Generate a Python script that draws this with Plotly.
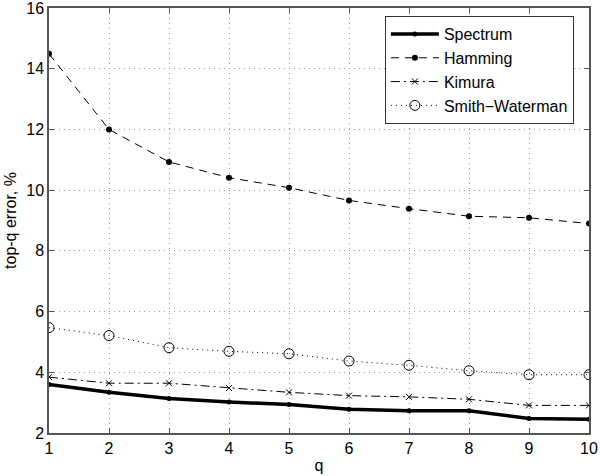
import plotly.graph_objects as go

q = [1, 2, 3, 4, 5, 6, 7, 8, 9, 10]
spectrum = [3.60, 3.34, 3.14, 3.02, 2.94, 2.78, 2.73, 2.73, 2.48, 2.45]
hamming = [14.49, 12.00, 10.93, 10.41, 10.08, 9.66, 9.39, 9.14, 9.09, 8.90]
kimura = [3.84, 3.64, 3.64, 3.48, 3.34, 3.23, 3.19, 3.11, 2.91, 2.91]
smith_waterman = [5.47, 5.21, 4.81, 4.69, 4.61, 4.37, 4.23, 4.05, 3.92, 3.92]

x_ticks = q
y_ticks = [2, 4, 6, 8, 10, 12, 14, 16]

FONT = "Liberation Sans, Arial"

fig = go.Figure()
fig.add_trace(go.Scatter(x=q, y=spectrum, name="Spectrum", mode="lines+markers",
                         line=dict(color="black", width=3.5),
                         marker=dict(symbol="circle", size=5, color="black")))
fig.add_trace(go.Scatter(x=q, y=hamming, name="Hamming", mode="lines+markers",
                         line=dict(color="black", width=1, dash="8px,6px"),
                         marker=dict(symbol="circle", size=6, color="black")))
fig.add_trace(go.Scatter(x=q, y=kimura, name="Kimura", mode="lines+markers",
                         line=dict(color="black", width=1, dash="9px,4px,2px,4px"),
                         marker=dict(symbol="x-thin", size=6, color="black",
                                     line=dict(color="black", width=1))))
fig.add_trace(go.Scatter(x=q, y=smith_waterman, name="Smith\u2212Waterman", mode="lines+markers",
                         line=dict(color="black", width=1, dash="1px,4px"),
                         marker=dict(symbol="circle-open", size=10, color="black",
                                     line=dict(color="black", width=1))))

axis_common = dict(
    showline=True, linecolor="#555555", linewidth=1.5, mirror="ticks",
    ticks="inside", ticklen=5, tickcolor="#555555",
    showgrid=True, gridcolor="#999999", griddash="1px,4px", gridwidth=1,
    zeroline=False, ticklabeloverflow="allow",
    tickfont=dict(family=FONT, size=16, color="black"),
)

fig.update_xaxes(range=[1, 10], tickvals=x_ticks,
                 title=dict(text="q", font=dict(family=FONT, size=16, color="black"), standoff=4),
                 **axis_common)
fig.update_yaxes(range=[2, 16], tickvals=y_ticks,
                 title=dict(text="top-q error, %", font=dict(family=FONT, size=16, color="black"), standoff=6),
                 **axis_common)

fig.update_layout(
    width=600, height=476,
    margin=dict(l=49, r=11, t=8, b=43, autoexpand=False),
    plot_bgcolor="white", paper_bgcolor="white",
    font=dict(family=FONT, size=16, color="black"),
    legend=dict(x=0.972, y=0.981, xanchor="right", yanchor="top",
                bordercolor="#333333", borderwidth=1, bgcolor="white",
                font=dict(size=16), tracegroupgap=0, itemwidth=48),
    showlegend=True,
)

fig.write_html("out.html", config={"displayModeBar": False},
               post_script="document.body.style.margin='0';document.body.style.padding='0';")
